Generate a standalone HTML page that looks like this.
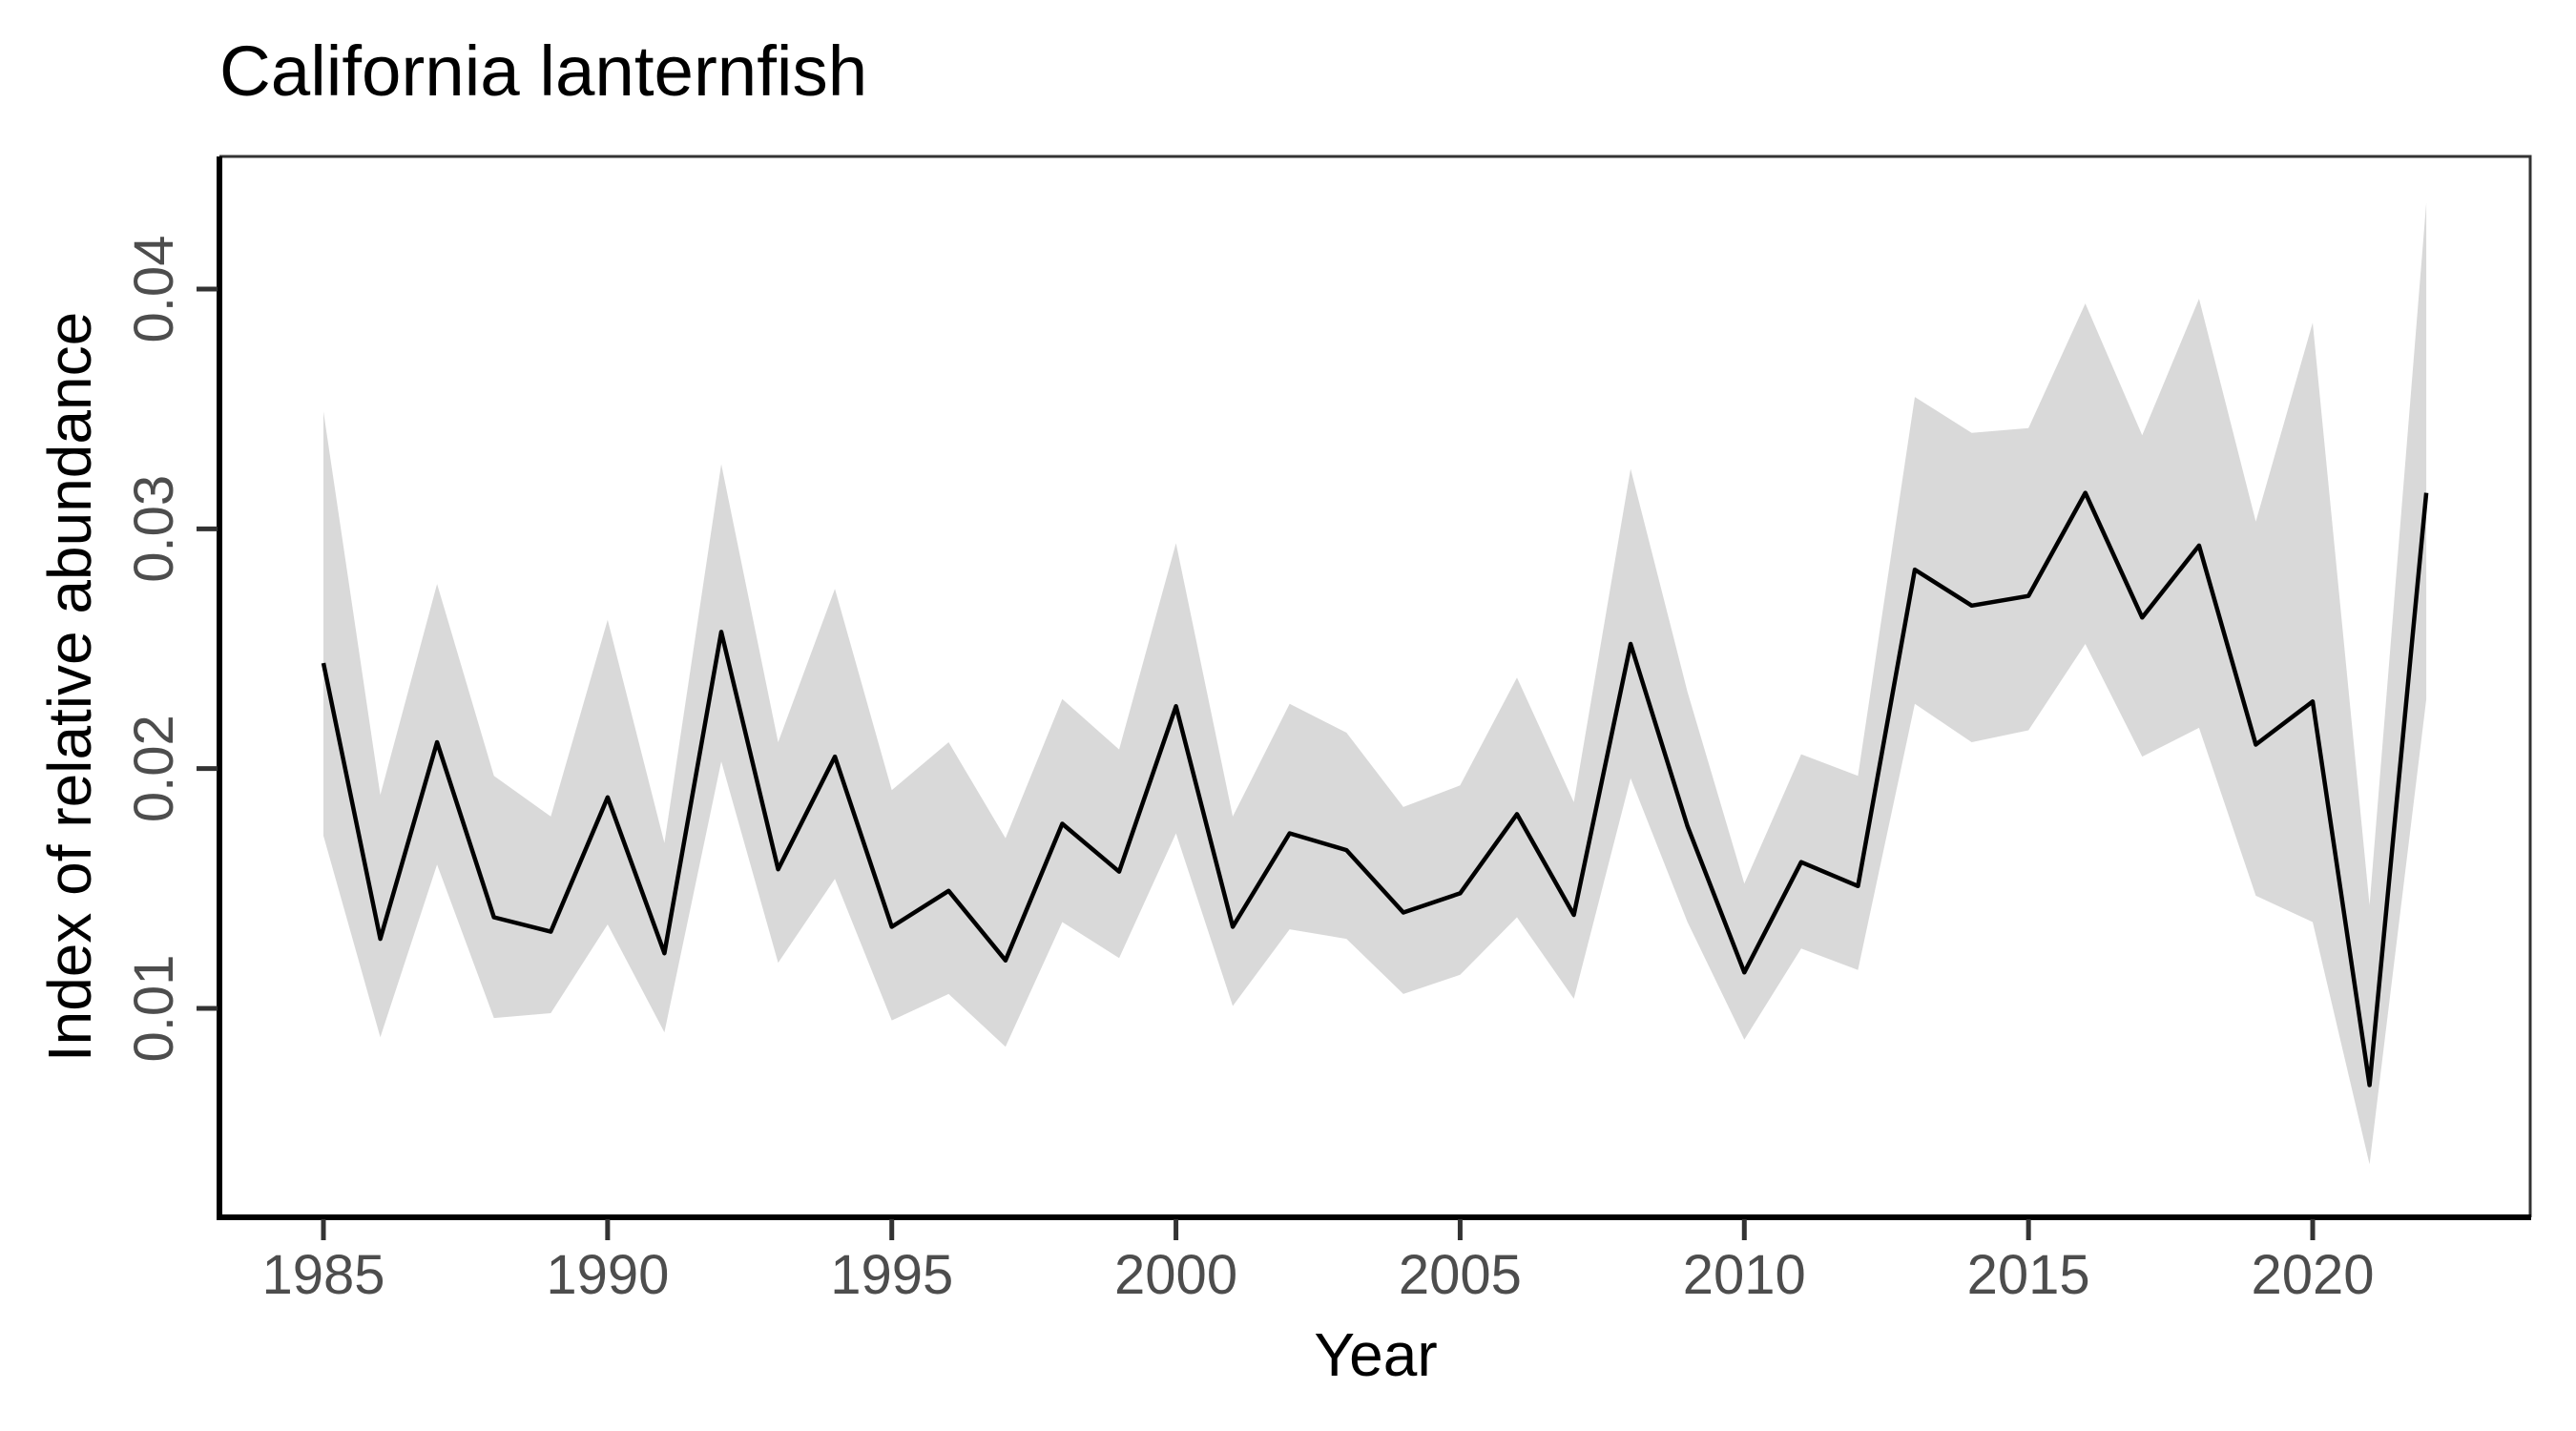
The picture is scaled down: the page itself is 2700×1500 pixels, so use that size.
<!DOCTYPE html>
<html><head><meta charset="utf-8">
<style>
html,body{margin:0;padding:0;background:#fff;}
svg{display:block;font-family:"Liberation Sans",Arial,sans-serif;}
</style></head>
<body>
<svg id="chart" width="2700" height="1500" viewBox="0 0 2700 1500" xmlns="http://www.w3.org/2000/svg">
<rect x="0" y="0" width="2700" height="1500" fill="#fff"/>
<text x="230" y="100" font-size="74.5" fill="#000">California lanternfish</text>
<g id="plot"></g>
<text x="1442" y="1442" font-size="64" fill="#000" text-anchor="middle">Year</text>
<text transform="translate(95,720) rotate(-90)" font-size="64" fill="#000" text-anchor="middle">Index of relative abundance</text>
</svg>
<script>
const years = [1985,1986,1987,1988,1989,1990,1991,1992,1993,1994,1995,1996,1997,1998,1999,2000,2001,2002,2003,2004,2005,2006,2007,2008,2009,2010,2011,2012,2013,2014,2015,2016,2017,2018,2019,2020,2021,2022];
const estimate = [0.0244,0.0129,0.0211,0.0138,0.0132,0.0188,0.0123,0.0257,0.0158,0.0205,0.0134,0.0149,0.0120,0.0177,0.0157,0.0226,0.0134,0.0173,0.0166,0.0140,0.0148,0.0181,0.0139,0.0252,0.0176,0.0115,0.0161,0.0151,0.0283,0.0268,0.0272,0.0315,0.0263,0.0293,0.0210,0.0228,0.0068,0.0315];
const upper = [0.0349,0.0189,0.0277,0.0197,0.0180,0.0262,0.0169,0.0327,0.0211,0.0275,0.0191,0.0211,0.0171,0.0229,0.0208,0.0294,0.0180,0.0227,0.0215,0.0184,0.0193,0.0238,0.0186,0.0325,0.0232,0.0152,0.0206,0.0197,0.0355,0.0340,0.0342,0.0394,0.0339,0.0396,0.0303,0.0386,0.0143,0.0436];
const lower = [0.0172,0.0088,0.0160,0.0096,0.0098,0.0135,0.0090,0.0203,0.0119,0.0154,0.0095,0.0106,0.0084,0.0136,0.0121,0.0173,0.0101,0.0133,0.0129,0.0106,0.0114,0.0138,0.0104,0.0196,0.0136,0.0087,0.0125,0.0116,0.0227,0.0211,0.0216,0.0252,0.0205,0.0217,0.0147,0.0136,0.0035,0.0229];
const xTicks = [1985,1990,1995,2000,2005,2010,2015,2020];
const yTicks = [0.01,0.02,0.03,0.04];
const yTickLabels = ["0.01","0.02","0.03","0.04"];

const NS = "http://www.w3.org/2000/svg";
const L = 230, T = 164, R = 2652, B = 1276;
function xs(v){ return 339 + (v - 1985) * (2424 - 339) / 35; }
function ys(v){ return 1057 - (v - 0.01) * (1057 - 303) / 0.03; }
const g = document.getElementById('plot');
function mk(tag, attrs){ const e = document.createElementNS(NS, tag); for (const k in attrs) e.setAttribute(k, attrs[k]); g.appendChild(e); return e; }

let d = '';
years.forEach((yr,i)=>{ d += (i?'L':'M') + xs(yr).toFixed(1) + ',' + ys(upper[i]).toFixed(1); });
for (let i = years.length-1; i >= 0; i--) d += 'L' + xs(years[i]).toFixed(1) + ',' + ys(lower[i]).toFixed(1);
d += 'Z';
const rib = mk('path', {d: d, fill: '#d9d9d9'});



let ld = '';
years.forEach((yr,i)=>{ ld += (i?'L':'M') + xs(yr).toFixed(1) + ',' + ys(estimate[i]).toFixed(1); });
const line = mk('path', {d: ld, fill: 'none', stroke: '#000', 'stroke-width': 4.5, 'stroke-linejoin': 'round'});



const bt = mk('path', {d: `M${L},${T}H${R}V${B}`, fill: 'none', stroke: '#333', 'stroke-width': 3});


const ya = mk('line', {x1: L, y1: T, x2: L, y2: B + 3, stroke: '#000', 'stroke-width': 6});


const xa = mk('line', {x1: L - 3, y1: B, x2: R + 1, y2: B, stroke: '#000', 'stroke-width': 6});



xTicks.forEach(v=>{
  const t = mk('line', {x1: xs(v), y1: B + 2, x2: xs(v), y2: B + 24, stroke: '#333', 'stroke-width': 5});
  
  
  const tx = mk('text', {x: xs(v), y: 1356, 'font-size': 58, fill: '#4d4d4d', 'text-anchor': 'middle'});
  tx.textContent = String(v);
  
  
});
yTicks.forEach((v,i)=>{
  const t = mk('line', {x1: L - 24, y1: ys(v), x2: L - 2, y2: ys(v), stroke: '#333', 'stroke-width': 5});
  
  
  const tx = mk('text', {transform: `translate(181,${ys(v)}) rotate(-90)`, 'font-size': 58, fill: '#4d4d4d', 'text-anchor': 'middle'});
  tx.textContent = yTickLabels[i];
  
  
});
</script>
</body></html>
